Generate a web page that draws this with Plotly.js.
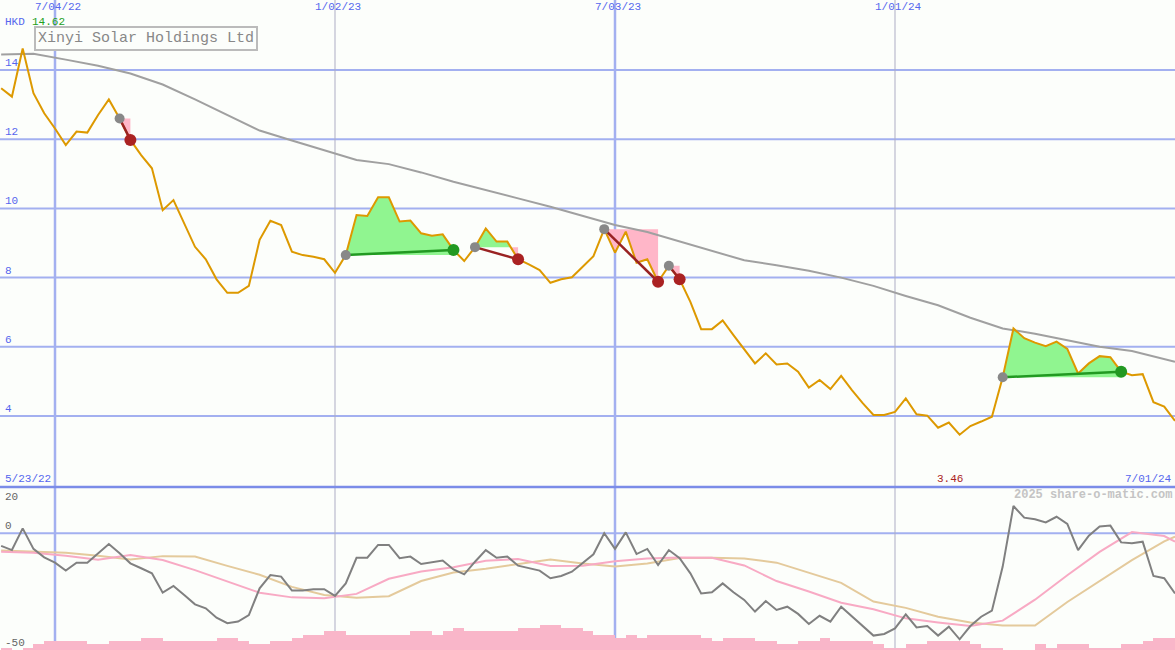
<!DOCTYPE html>
<html><head><meta charset="utf-8">
<script src="https://cdn.plot.ly/plotly-3.0.1.min.js"></script>
<style>html,body{margin:0;padding:0;background:#fcfefb;}#chart{width:1175px;height:650px;}</style>
</head><body><div id="chart"></div>
<script>
// ---------- DATA ----------
const dates = [
'2022-05-30','2022-06-06','2022-06-13','2022-06-20','2022-06-27','2022-07-04','2022-07-11','2022-07-18','2022-07-25','2022-08-01',
'2022-08-08','2022-08-15','2022-08-22','2022-08-29','2022-09-05','2022-09-12','2022-09-19','2022-09-26','2022-10-03','2022-10-10',
'2022-10-17','2022-10-24','2022-10-31','2022-11-07','2022-11-14','2022-11-21','2022-11-28','2022-12-05','2022-12-12','2022-12-19',
'2022-12-26','2023-01-02','2023-01-09','2023-01-16','2023-01-23','2023-01-30','2023-02-06','2023-02-13','2023-02-20','2023-02-27',
'2023-03-06','2023-03-13','2023-03-20','2023-03-27','2023-04-03','2023-04-10','2023-04-17','2023-04-24','2023-05-01','2023-05-08',
'2023-05-15','2023-05-22','2023-05-29','2023-06-05','2023-06-12','2023-06-19','2023-06-26','2023-07-03','2023-07-10','2023-07-17',
'2023-07-24','2023-07-31','2023-08-07','2023-08-14','2023-08-21','2023-08-28','2023-09-04','2023-09-11','2023-09-18','2023-09-25',
'2023-10-02','2023-10-09','2023-10-16','2023-10-23','2023-10-30','2023-11-06','2023-11-13','2023-11-20','2023-11-27','2023-12-04',
'2023-12-11','2023-12-18','2023-12-25','2024-01-01','2024-01-08','2024-01-15','2024-01-22','2024-01-29','2024-02-05','2024-02-12',
'2024-02-19','2024-02-26','2024-03-04','2024-03-11','2024-03-18','2024-03-25','2024-04-01','2024-04-08','2024-04-15','2024-04-22',
'2024-04-29','2024-05-06','2024-05-13','2024-05-20','2024-05-27','2024-06-03','2024-06-10','2024-06-17','2024-06-24','2024-07-01'];

const price = [
13.47,13.23,14.62,13.33,12.75,12.31,11.83,12.22,12.19,12.70,
13.15,12.60,11.98,11.54,11.16,9.95,10.24,9.57,8.89,8.53,
7.95,7.56,7.56,7.76,9.09,9.64,9.52,8.75,8.65,8.60,
8.53,8.14,8.65,9.81,9.78,10.32,10.32,9.62,9.65,9.28,
9.21,9.25,8.80,8.48,8.88,9.42,9.04,9.04,8.53,8.38,
8.22,7.85,7.95,8.01,8.32,8.62,9.40,8.72,9.33,8.43,
8.53,7.88,8.34,7.95,7.30,6.51,6.51,6.76,6.34,5.93,
5.52,5.81,5.49,5.52,5.28,4.82,5.04,4.78,5.16,4.75,
4.37,4.03,4.03,4.12,4.51,4.05,4.01,3.66,3.81,3.46,
3.71,3.84,3.98,5.12,6.53,6.25,6.12,6.02,6.15,5.94,
5.23,5.52,5.73,5.70,5.28,5.18,5.21,4.40,4.27,3.86];

// week indices at which the smooth lines were read
const smoothIdx = [0,3,6,9,12,15,18,21,24,27,30,33,36,39,42,45,48,51,54,57,60,63,66,69,72,75,78,81,84,87,90,93,96,99,102,105,108,109];
const movingAvg = [14.45,14.47,14.30,14.12,13.90,13.58,13.15,12.70,12.25,11.96,11.68,11.40,11.28,11.04,10.77,10.52,10.29,10.05,9.78,9.52,
9.32,9.05,8.76,8.50,8.36,8.20,8.00,7.76,7.47,7.20,6.84,6.53,6.38,6.20,6.00,5.88,5.65,5.57];

const oscillator = [
-5.4,-7.2,2.1,-6.7,-10.3,-12.6,-16.0,-12.6,-12.6,-8.6,
-4.6,-8.6,-12.9,-15.0,-17.2,-25.5,-22.6,-26.5,-30.5,-32.2,
-36.2,-38.6,-37.9,-35.1,-23.6,-17.9,-18.6,-24.6,-24.6,-24.0,
-24.0,-26.9,-21.5,-10.5,-10.5,-5.0,-5.0,-10.7,-10.0,-13.2,
-12.4,-11.7,-15.5,-17.6,-12.2,-7.2,-10.5,-10.0,-13.9,-15.0,
-16.0,-19.3,-18.3,-16.5,-12.6,-9.0,0.0,-6.7,0.4,-8.9,
-6.7,-13.6,-7.2,-10.7,-17.2,-25.8,-25.3,-21.5,-25.3,-28.6,
-33.6,-29.1,-32.9,-31.5,-34.6,-38.9,-35.4,-37.9,-31.5,-35.5,
-39.8,-43.9,-43.2,-40.8,-34.8,-40.4,-39.8,-43.9,-40.1,-45.5,
-39.8,-35.8,-33.2,-14.3,11.7,6.7,6.0,4.7,7.1,4.0,
-7.2,-1.0,2.9,3.3,-3.9,-4.3,-3.6,-18.3,-19.3,-25.8];
const oscFast = [-7.9,-8.3,-9.6,-11.3,-9.3,-11.5,-15.8,-20.5,-25.5,-27.5,-27.9,-26.0,-19.5,-16.4,-14.6,-11.8,-11.0,-14.0,-13.9,-12.0,
-10.8,-10.4,-10.5,-13.8,-20.5,-25.0,-29.8,-32.6,-36.5,-38.3,-39.8,-37.5,-28.5,-18.0,-8.0,0.5,-1.2,-3.6];
const oscSlow = [-7.4,-7.9,-8.3,-9.6,-11.2,-9.8,-10.0,-14.0,-17.8,-23.0,-26.5,-27.7,-27.0,-20.5,-16.8,-15.2,-13.3,-11.2,-13.0,-14.2,
-13.0,-10.6,-10.5,-10.8,-12.6,-16.9,-21.3,-29.3,-32.0,-35.8,-38.3,-39.6,-39.6,-29.5,-20.5,-11.5,-3.5,-1.4];

const volume = [
5,0,5,12,18,18,18,18,12,12,
18,18,18,25,25,18,18,18,18,18,
25,25,18,12,12,18,18,25,30,30,
38,38,30,30,30,30,30,30,38,38,
30,38,45,38,38,38,38,38,45,45,
50,50,45,45,38,30,30,25,30,25,
30,30,30,30,30,25,18,25,25,25,
18,18,12,12,18,18,25,18,18,18,
18,12,5,5,12,12,18,18,18,18,
12,5,5,0,0,0,12,5,12,12,
12,5,5,5,12,12,18,25,25];

const tradeEntry = [11,32,44,56,62,93];
const tradeExit  = [12,42,48,61,63,104];

const priceTicks = [4,6,8,10,12,14];
const oscTicks = [20,0,-50];
const dateTicks = ['2022-07-04','2023-01-02','2023-07-03','2024-01-01'];
const dateTickLabels = ['7/04/22','1/02/23','7/03/23','1/01/24'];
const dateTickMajor = [true,false,true,false];
const firstLabel = '5/23/22', lastLabel = '7/01/24';
const titleText = 'Xinyi Solar Holdings Ltd';
const currency = 'HKD';
const credit = '2025 share-o-matic.com';

// ---------- STYLE ----------
const FONT = 'Liberation Mono, DejaVu Sans Mono, monospace';
const BG = '#fcfefb';
const SPLIT = 163/650;
const GRID = '#a3b0f0';
const BLUE_TXT = '#5566ee';
const OSC_RANGE = [-50.09, 19.87];

const t = dates.map(d => new Date(d + 'T00:00:00Z').getTime());
const traces = [];

// volume bars (bottom panel)
traces.push({type:'bar', x: dates.slice(0, volume.length), y: volume, xaxis:'x', yaxis:'y2',
  width: 7*86400000, offset: 0, marker:{color:'#f9b6c9', line:{width:0}}, hoverinfo:'skip'});

// trade fills
function clipped(a, b, level, above) {
  const xs = [], ys = []; let any = false;
  for (let k = a; k <= b; k++) {
    const v = price[k];
    if (above ? v > level : v < level) any = true;
    xs.push(t[k]); ys.push(above ? Math.max(v, level) : Math.min(v, level));
    if (k < b) {
      const v2 = price[k+1];
      if ((v - level) * (v2 - level) < 0) {
        const f = (level - v) / (v2 - v);
        xs.push(t[k] + f * (t[k+1] - t[k])); ys.push(level);
      }
    }
  }
  return {xs, ys, any};
}
tradeEntry.forEach((a, n) => {
  const b = tradeExit[n], level = price[a];
  [[true,'#90f590'],[false,'#ffb6c8']].forEach(([above, col]) => {
    const c = clipped(a, b, level, above);
    if (!c.any) return;
    traces.push({x:[t[a], t[b]], y:[level, level], mode:'lines', line:{width:0, color:col}, xaxis:'x', yaxis:'y', hoverinfo:'skip'});
    traces.push({x:c.xs, y:c.ys, mode:'lines', line:{width:0, color:col}, fill:'tonexty', fillcolor:col, xaxis:'x', yaxis:'y', hoverinfo:'skip'});
  });
});

// moving average & price
traces.push({x: smoothIdx.map(i => dates[i]), y: movingAvg, mode:'lines', line:{color:'#a0a0a0', width:2}, xaxis:'x', yaxis:'y', hoverinfo:'skip'});
traces.push({x: dates, y: price, mode:'lines', line:{color:'#dd9900', width:2}, xaxis:'x', yaxis:'y', hoverinfo:'skip'});

// trade connectors & markers
tradeEntry.forEach((a, n) => {
  const b = tradeExit[n]; const win = price[b] > price[a];
  traces.push({x:[dates[a], dates[b]], y:[price[a], price[b]], mode:'lines',
    line:{color: win ? '#229922' : '#992222', width:2.5}, xaxis:'x', yaxis:'y', hoverinfo:'skip'});
});
traces.push({x: tradeEntry.map(i => dates[i]), y: tradeEntry.map(i => price[i]), mode:'markers',
  marker:{color:'#888888', size:10}, xaxis:'x', yaxis:'y', hoverinfo:'skip'});
traces.push({x: tradeExit.map(i => dates[i]), y: tradeExit.map(i => price[i]), mode:'markers',
  marker:{color: tradeExit.map((b, n) => price[b] > price[tradeEntry[n]] ? '#229922' : '#aa2222'), size:12},
  xaxis:'x', yaxis:'y', hoverinfo:'skip'});

// oscillator panel
traces.push({x: smoothIdx.map(i => dates[i]), y: oscSlow, mode:'lines', line:{color:'#e4ca9c', width:2}, xaxis:'x', yaxis:'y3', hoverinfo:'skip'});
traces.push({x: smoothIdx.map(i => dates[i]), y: oscFast, mode:'lines', line:{color:'#f8aac4', width:2}, xaxis:'x', yaxis:'y3', hoverinfo:'skip'});
traces.push({x: dates, y: oscillator, mode:'lines', line:{color:'#808080', width:2}, xaxis:'x', yaxis:'y3', hoverinfo:'skip'});

// ---------- SHAPES ----------
const shapes = [];
priceTicks.forEach(v => shapes.push({type:'line', xref:'paper', x0:0, x1:1, yref:'y', y0:v, y1:v, line:{color:GRID, width:2}, layer:'below'}));
shapes.push({type:'line', xref:'paper', x0:0, x1:1, yref:'y3', y0:0, y1:0, line:{color:GRID, width:2}, layer:'below'});
dateTicks.forEach((d, k) => shapes.push({type:'line', xref:'x', x0:d, x1:d, yref:'paper', y0:0, y1:1,
  line:{color: dateTickMajor[k] ? GRID : '#adadc4', width: dateTickMajor[k] ? 2.5 : 1}, layer:'below'}));
shapes.push({type:'line', xref:'paper', x0:0, x1:1, yref:'paper', y0:SPLIT, y1:SPLIT, line:{color:'#7b8ce8', width:2.5}});

// ---------- ANNOTATIONS ----------
const ann = [];
const A = (o) => Object.assign({showarrow:false, font:{family:FONT, size:11, color:BLUE_TXT}}, o);
priceTicks.forEach(v => ann.push(A({text:String(v), xref:'paper', x:3/1175, xanchor:'left', yref:'y', y:v, yanchor:'bottom', yshift:-1})));
oscTicks.forEach(v => {
  const yv = Math.max(OSC_RANGE[0] + 0.05, Math.min(OSC_RANGE[1] - 0.05, v));
  ann.push(A({text:String(v), xref:'paper', x:3/1175, xanchor:'left', yref:'y3', y:yv,
    yanchor: v > 0 ? 'top' : 'bottom', yshift: v > 0 ? -2 : -1, font:{family:FONT, size:11, color:'#666666'}}));
});
dateTicks.forEach((d, k) => ann.push(A({text:dateTickLabels[k], xref:'x', x:d, xanchor:'center', xshift:3, yref:'paper', y:1, yanchor:'top', yshift:1})));
ann.push(A({text:currency, xref:'paper', x:3/1175, xanchor:'left', yref:'paper', y:1-14/650, yanchor:'top'}));
const maxV = Math.max(...price), minV = Math.min(...price);
ann.push(A({text:maxV.toFixed(2), xref:'paper', x:30/1175, xanchor:'left', yref:'paper', y:1-14/650, yanchor:'top', font:{family:FONT, size:11, color:'#22a022'}}));
ann.push(A({text:titleText, xref:'paper', x:34/1175, xanchor:'left', yref:'paper', y:1-26/650, yanchor:'top',
  font:{family:FONT, size:15, color:'#888888'}, bordercolor:'#bbbbbb', borderwidth:2, borderpad:2, bgcolor:BG}));
ann.push(A({text:firstLabel, xref:'paper', x:3/1175, xanchor:'left', yref:'paper', y:(650-479)/650, yanchor:'middle'}));
ann.push(A({text:lastLabel, xref:'paper', x:1, xanchor:'right', xshift:-1, yref:'paper', y:(650-479)/650, yanchor:'middle'}));
ann.push(A({text:minV.toFixed(2), xref:'x', x:dates[price.indexOf(minV)], xanchor:'center', xshift:-10, yref:'paper', y:(650-479)/650, yanchor:'middle', font:{family:FONT, size:11, color:'#aa2222'}}));
ann.push(A({text:'<b>'+credit+'</b>', xref:'paper', x:1, xanchor:'right', xshift:-1, yref:'paper', y:(650-495)/650, yanchor:'middle', font:{family:FONT, size:12, color:'#c4c4c4'}}));

const layout = {
  width:1175, height:650, margin:{l:0, r:0, t:0, b:0},
  paper_bgcolor:BG, plot_bgcolor:BG, showlegend:false, bargap:0,
  xaxis:{type:'date', range:['2022-05-29 06:00','2024-07-01 00:00'], anchor:'y2', showgrid:false, zeroline:false, showticklabels:false, ticks:'', showline:false},
  yaxis:{domain:[SPLIT, 1], range:[1.948, 16.023], showgrid:false, zeroline:false, showticklabels:false, ticks:''},
  yaxis2:{domain:[0, SPLIT], range:[0, 326], showgrid:false, zeroline:false, showticklabels:false, ticks:''},
  yaxis3:{overlaying:'y2', range:OSC_RANGE, showgrid:false, zeroline:false, showticklabels:false, ticks:''},
  shapes: shapes, annotations: ann
};
Plotly.newPlot('chart', traces, layout, {displayModeBar:false, staticPlot:true});
</script></body></html>
